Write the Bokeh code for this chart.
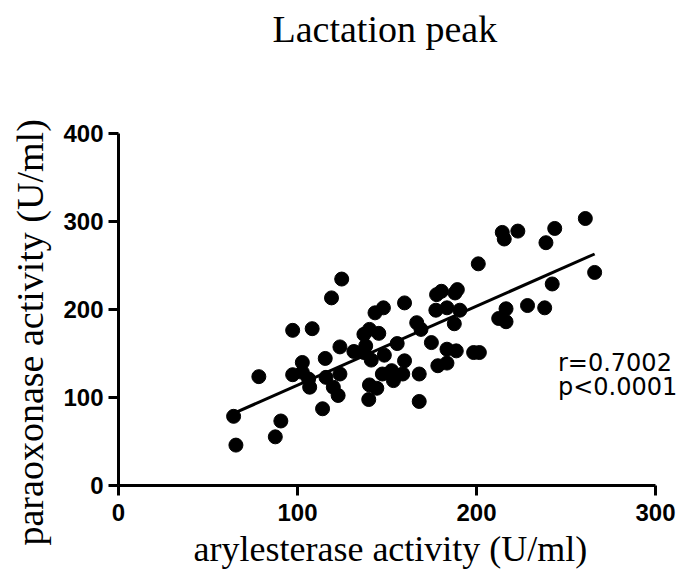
import numpy as np
from bokeh.plotting import figure
from bokeh.models import Range1d, FixedTicker, Label, ColumnDataSource, Title
from bokeh.embed import file_html
from bokeh.resources import INLINE

# --- data ---
arylesterase = [64.3, 65.6, 78.4, 87.6, 90.7, 97.3, 97.3, 102.7, 102.7, 106.2,
                106.8, 108.2, 114.0, 115.5, 115.9, 119.0, 120.0, 122.7, 123.7, 123.7,
                124.7, 131.5, 137.1, 137.1, 138.1, 139.8, 140.2, 141.2, 140.2, 144.3,
                145.4, 143.3, 148.0, 148.5, 147.4, 152.6, 153.6, 155.7, 158.8, 159.8,
                159.8, 166.6, 168.0, 168.0, 169.0, 174.8, 177.7, 177.3, 178.4, 180.4,
                183.5, 183.5, 183.5, 187.6, 188.0, 188.7, 189.3, 190.7, 198.4, 201.6,
                201.0, 212.4, 216.5, 216.5, 214.4, 215.5, 223.1, 228.5, 238.1, 238.8,
                242.3, 243.7, 260.8, 266.0]
paraoxonase = [78.6, 45.9, 123.7, 55.3, 73.3, 176.3, 125.9, 139.8, 128.6, 121.0,
               111.7, 178.2, 87.2, 144.4, 122.9, 213.2, 111.7, 102.3, 126.7, 157.5,
               234.6, 152.3, 171.8, 151.1, 158.6, 97.7, 114.3, 142.5, 177.4, 110.5,
               172.9, 196.2, 201.9, 148.1, 126.7, 130.5, 119.2, 161.3, 126.7, 141.7,
               207.5, 185.0, 126.7, 95.5, 177.4, 162.4, 216.9, 199.2, 136.1, 220.7,
               201.9, 154.9, 139.1, 183.8, 218.8, 153.0, 222.6, 199.2, 151.1, 151.1,
               251.9, 189.8, 200.8, 186.1, 287.6, 280.1, 289.1, 204.5, 201.9, 275.9,
               229.0, 292.1, 303.4, 242.1]
fit_slope = 0.898
fit_intercept = 24.2
x_ticks = [0, 100, 200, 300]
y_ticks = [0, 100, 200, 300, 400]
stats_text = ["r=0.7002", "p<0.0001"]

title_text = "Lactation peak"
x_label = "arylesterase activity (U/ml)"
y_label = "paraoxonase activity (U/ml)"

# --- layout constants ---
W, H = 678, 575
LEFT, TOP = 118, 133
FRAME_W_AXIS = 537      # pixels spanned by 0..300 on the x axis
FRAME_H = 352
frame_w = W - LEFT
x_end = x_ticks[-1] * frame_w / FRAME_W_AXIS
SERIF = "Liberation Serif"

p = figure(width=W, height=H, output_backend="svg", toolbar_location=None,
           x_range=Range1d(0, x_end), y_range=Range1d(0, y_ticks[-1]),
           min_border_left=LEFT, min_border_right=0,
           min_border_top=TOP, min_border_bottom=H - TOP - FRAME_H)
p.outline_line_color = None
p.grid.visible = False
p.background_fill_color = "white"
p.border_fill_color = "white"
p.title.text = ""

# spacer (nearest the frame) pushes the real title to the top of the canvas
p.add_layout(Title(text=" ", text_font_size="2px", standoff=80), "above")
p.add_layout(Title(text=title_text, align="left", offset=154, vertical_align="bottom",
                   standoff=0, text_font=SERIF, text_font_size="38px",
                   text_font_style="normal", text_color="black"), "above")

for ax, ticks in ((p.xaxis[0], x_ticks), (p.yaxis[0], y_ticks)):
    ax.ticker = FixedTicker(ticks=ticks)
    ax.bounds = (ticks[0], ticks[-1])
    ax.minor_tick_line_color = None
    ax.major_tick_in = 0
    ax.major_tick_out = 10
    ax.major_tick_line_width = 3
    ax.major_tick_line_color = "black"
    ax.axis_line_width = 3
    ax.axis_line_color = "black"
    ax.major_label_text_font = "Liberation Sans"
    ax.major_label_text_font_style = "bold"
    ax.major_label_text_font_size = "24px"
    ax.major_label_text_color = "black"
p.xaxis.major_label_standoff = 8
p.yaxis.major_label_standoff = 5

# axis titles placed as side-panel titles so they can be offset like the reference
p.add_layout(Title(text=y_label, align="left", offset=-60, vertical_align="top",
                   standoff=15, text_font=SERIF, text_font_size="38px",
                   text_font_style="normal", text_color="black"), "left")
p.add_layout(Title(text=x_label, align="left", offset=75, vertical_align="bottom",
                   standoff=7, text_font=SERIF, text_font_size="36px",
                   text_font_style="normal", text_color="black"), "below")

src = ColumnDataSource(dict(x=arylesterase, y=paraoxonase))
p.scatter("x", "y", source=src, size=14, color="black", marker="circle")

fx = np.array([min(arylesterase), max(arylesterase)])
p.line(fx, fit_slope * fx + fit_intercept, line_width=3, color="black")

p.add_layout(Label(x=245.5, y=139.5, text=stats_text[0], text_font="DejaVu Sans",
                   text_font_size="24px", text_baseline="middle", text_color="black"))
p.add_layout(Label(x=245.5, y=112.5, text=stats_text[1], text_font="DejaVu Sans",
                   text_font_size="24px", text_baseline="middle", text_color="black"))

open("out.html", "w").write(file_html(p, INLINE))
